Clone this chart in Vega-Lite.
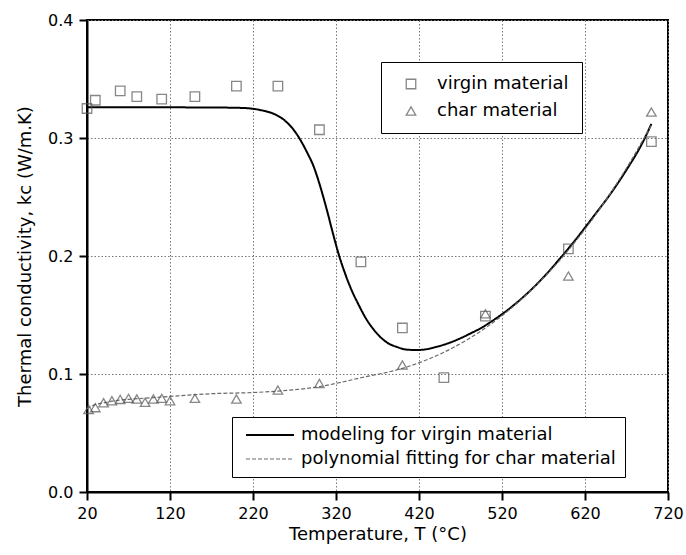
{
  "$schema": "https://vega.github.io/schema/vega-lite/v6.json",
  "width": 581,
  "height": 472,
  "autosize": "none",
  "padding": {"left": 87, "top": 20, "right": 18, "bottom": 63},
  "background": "white",
  "config": {
    "font": "DejaVu Sans",
    "view": {"stroke": "black", "strokeWidth": 2},
    "axis": {
      "domainColor": "black",
      "domainWidth": 2,
      "labelFontSize": 16,
      "labelColor": "black",
      "labelFont": "DejaVu Sans",
      "titleFont": "DejaVu Sans",
      "titleFontSize": 18,
      "titleFontWeight": "normal",
      "titleColor": "black",
      "labelFlush": false,
      "labelOverlap": false
    }
  },
  "datasets": {
    "curves": [
      {"curve": "modeling for virgin material", "T": 20, "k": 0.326},
      {"curve": "modeling for virgin material", "T": 100, "k": 0.326},
      {"curve": "modeling for virgin material", "T": 180, "k": 0.3258},
      {"curve": "modeling for virgin material", "T": 210, "k": 0.3254},
      {"curve": "modeling for virgin material", "T": 230, "k": 0.3235},
      {"curve": "modeling for virgin material", "T": 245, "k": 0.3205},
      {"curve": "modeling for virgin material", "T": 258, "k": 0.315},
      {"curve": "modeling for virgin material", "T": 272, "k": 0.304},
      {"curve": "modeling for virgin material", "T": 285, "k": 0.288},
      {"curve": "modeling for virgin material", "T": 293, "k": 0.276},
      {"curve": "modeling for virgin material", "T": 301, "k": 0.259},
      {"curve": "modeling for virgin material", "T": 309, "k": 0.239},
      {"curve": "modeling for virgin material", "T": 316, "k": 0.22},
      {"curve": "modeling for virgin material", "T": 323, "k": 0.202},
      {"curve": "modeling for virgin material", "T": 330, "k": 0.187},
      {"curve": "modeling for virgin material", "T": 337, "k": 0.174},
      {"curve": "modeling for virgin material", "T": 347, "k": 0.159},
      {"curve": "modeling for virgin material", "T": 357, "k": 0.146},
      {"curve": "modeling for virgin material", "T": 365, "k": 0.138},
      {"curve": "modeling for virgin material", "T": 373, "k": 0.1316},
      {"curve": "modeling for virgin material", "T": 383, "k": 0.126},
      {"curve": "modeling for virgin material", "T": 393, "k": 0.123},
      {"curve": "modeling for virgin material", "T": 405, "k": 0.1207},
      {"curve": "modeling for virgin material", "T": 417, "k": 0.1203},
      {"curve": "modeling for virgin material", "T": 429, "k": 0.121},
      {"curve": "modeling for virgin material", "T": 441, "k": 0.123},
      {"curve": "modeling for virgin material", "T": 455, "k": 0.126},
      {"curve": "modeling for virgin material", "T": 469, "k": 0.13},
      {"curve": "modeling for virgin material", "T": 481, "k": 0.134},
      {"curve": "modeling for virgin material", "T": 494, "k": 0.1387},
      {"curve": "modeling for virgin material", "T": 510, "k": 0.1458},
      {"curve": "modeling for virgin material", "T": 530, "k": 0.156},
      {"curve": "modeling for virgin material", "T": 550, "k": 0.168},
      {"curve": "modeling for virgin material", "T": 570, "k": 0.182},
      {"curve": "modeling for virgin material", "T": 590, "k": 0.198},
      {"curve": "modeling for virgin material", "T": 610, "k": 0.215},
      {"curve": "modeling for virgin material", "T": 630, "k": 0.2333},
      {"curve": "modeling for virgin material", "T": 650, "k": 0.252},
      {"curve": "modeling for virgin material", "T": 670, "k": 0.273},
      {"curve": "modeling for virgin material", "T": 690, "k": 0.297},
      {"curve": "modeling for virgin material", "T": 700, "k": 0.312},
      {"curve": "polynomial fitting for char material", "T": 20, "k": 0.0705},
      {"curve": "polynomial fitting for char material", "T": 25, "k": 0.0725},
      {"curve": "polynomial fitting for char material", "T": 30, "k": 0.074},
      {"curve": "polynomial fitting for char material", "T": 40, "k": 0.0755},
      {"curve": "polynomial fitting for char material", "T": 50, "k": 0.077},
      {"curve": "polynomial fitting for char material", "T": 70, "k": 0.0785},
      {"curve": "polynomial fitting for char material", "T": 100, "k": 0.08},
      {"curve": "polynomial fitting for char material", "T": 130, "k": 0.0815},
      {"curve": "polynomial fitting for char material", "T": 170, "k": 0.0833},
      {"curve": "polynomial fitting for char material", "T": 220, "k": 0.0843},
      {"curve": "polynomial fitting for char material", "T": 250, "k": 0.0855},
      {"curve": "polynomial fitting for char material", "T": 300, "k": 0.0893},
      {"curve": "polynomial fitting for char material", "T": 350, "k": 0.0968},
      {"curve": "polynomial fitting for char material", "T": 400, "k": 0.1048},
      {"curve": "polynomial fitting for char material", "T": 425, "k": 0.1108},
      {"curve": "polynomial fitting for char material", "T": 450, "k": 0.1184},
      {"curve": "polynomial fitting for char material", "T": 475, "k": 0.1278},
      {"curve": "polynomial fitting for char material", "T": 500, "k": 0.139},
      {"curve": "polynomial fitting for char material", "T": 525, "k": 0.1522},
      {"curve": "polynomial fitting for char material", "T": 550, "k": 0.1675},
      {"curve": "polynomial fitting for char material", "T": 575, "k": 0.1851},
      {"curve": "polynomial fitting for char material", "T": 600, "k": 0.205},
      {"curve": "polynomial fitting for char material", "T": 625, "k": 0.2274},
      {"curve": "polynomial fitting for char material", "T": 650, "k": 0.2525},
      {"curve": "polynomial fitting for char material", "T": 675, "k": 0.2803},
      {"curve": "polynomial fitting for char material", "T": 700, "k": 0.311}
    ],
    "points": [
      {"material": "virgin material", "T": 20, "k": 0.325},
      {"material": "virgin material", "T": 30, "k": 0.332},
      {"material": "virgin material", "T": 60, "k": 0.34},
      {"material": "virgin material", "T": 80, "k": 0.335},
      {"material": "virgin material", "T": 110, "k": 0.333},
      {"material": "virgin material", "T": 150, "k": 0.335},
      {"material": "virgin material", "T": 200, "k": 0.344},
      {"material": "virgin material", "T": 250, "k": 0.344},
      {"material": "virgin material", "T": 300, "k": 0.307},
      {"material": "virgin material", "T": 350, "k": 0.195},
      {"material": "virgin material", "T": 400, "k": 0.139},
      {"material": "virgin material", "T": 450, "k": 0.097},
      {"material": "virgin material", "T": 500, "k": 0.149},
      {"material": "virgin material", "T": 600, "k": 0.206},
      {"material": "virgin material", "T": 700, "k": 0.297},
      {"material": "char material", "T": 22, "k": 0.07},
      {"material": "char material", "T": 30, "k": 0.0715},
      {"material": "char material", "T": 40, "k": 0.0757},
      {"material": "char material", "T": 50, "k": 0.0774},
      {"material": "char material", "T": 60, "k": 0.0785},
      {"material": "char material", "T": 70, "k": 0.0794},
      {"material": "char material", "T": 80, "k": 0.0788},
      {"material": "char material", "T": 90, "k": 0.076},
      {"material": "char material", "T": 100, "k": 0.0788},
      {"material": "char material", "T": 110, "k": 0.0794},
      {"material": "char material", "T": 120, "k": 0.0774},
      {"material": "char material", "T": 150, "k": 0.0794},
      {"material": "char material", "T": 200, "k": 0.0788},
      {"material": "char material", "T": 250, "k": 0.0864},
      {"material": "char material", "T": 300, "k": 0.092},
      {"material": "char material", "T": 400, "k": 0.1076},
      {"material": "char material", "T": 500, "k": 0.151},
      {"material": "char material", "T": 600, "k": 0.183},
      {"material": "char material", "T": 700, "k": 0.322}
    ]
  },
  "layer": [
    {
      "data": {"name": "curves"},
      "mark": {"type": "line", "interpolate": "monotone"},
      "encoding": {
        "x": {
          "field": "T", "type": "quantitative",
          "scale": {"domain": [20, 720], "nice": false, "zero": false},
          "axis": {
            "values": [20, 120, 220, 320, 420, 520, 620, 720],
            "title": "Temperature, T (°C)",
            "format": "d",
            "tickColor": "black",
            "tickWidth": 2,
            "tickSize": 8,
            "gridColor": "#777",
            "gridDash": [1.5, 2],
            "labelPadding": 5,
            "titlePadding": 4
          }
        },
        "y": {
          "field": "k", "type": "quantitative",
          "scale": {"domain": [0, 0.4], "nice": false, "zero": false},
          "axis": {
            "values": [0, 0.1, 0.2, 0.3, 0.4],
            "title": "Thermal conductivity, kc (W/m.K)",
            "format": ".1f",
            "tickColor": "black",
            "tickWidth": 2,
            "tickSize": 8,
            "gridColor": "#777",
            "gridDash": [1.5, 2],
            "labelPadding": 6,
            "titlePadding": 13
          }
        },
        "color": {
          "field": "curve", "type": "nominal",
          "scale": {"domain": ["modeling for virgin material", "polynomial fitting for char material"], "range": ["black", "#6a6a6a"]},
          "legend": {
            "title": null,
            "orient": "none",
            "legendX": 145,
            "legendY": 397,
            "labelFontSize": 18,
            "labelColor": "black",
            "labelLimit": 600,
            "strokeColor": "black",
            "fillColor": "white",
            "padding": 9,
            "symbolType": "M-4.8,0H4.8",
            "symbolSize": 100,
            "labelOffset": 22,
            "rowPadding": 6,
            "symbolOffset": 20
          }
        },
        "strokeDash": {
          "field": "curve", "type": "nominal",
          "scale": {"domain": ["modeling for virgin material", "polynomial fitting for char material"], "range": [[1, 0], [4, 2]]},
          "legend": {
            "title": null,
            "orient": "none",
            "legendX": 145,
            "legendY": 397,
            "labelFontSize": 18,
            "labelColor": "black",
            "labelLimit": 600,
            "strokeColor": "black",
            "fillColor": "white",
            "padding": 9,
            "symbolType": "M-4.8,0H4.8",
            "symbolSize": 100,
            "labelOffset": 22,
            "rowPadding": 6,
            "symbolOffset": 20
          }
        },
        "strokeWidth": {
          "field": "curve", "type": "nominal",
          "scale": {"domain": ["modeling for virgin material", "polynomial fitting for char material"], "range": [2, 1.2]},
          "legend": {
            "title": null,
            "orient": "none",
            "legendX": 145,
            "legendY": 397,
            "labelFontSize": 18,
            "labelColor": "black",
            "labelLimit": 600,
            "strokeColor": "black",
            "fillColor": "white",
            "padding": 9,
            "symbolType": "M-4.8,0H4.8",
            "symbolSize": 100,
            "labelOffset": 22,
            "rowPadding": 6,
            "symbolOffset": 20
          }
        }
      }
    },
    {
      "data": {"name": "points"},
      "mark": {"type": "point", "filled": false, "size": 90, "strokeWidth": 1.3, "color": "#555"},
      "encoding": {
        "x": {"field": "T", "type": "quantitative"},
        "y": {"field": "k", "type": "quantitative"},
        "shape": {
          "field": "material", "type": "nominal",
          "scale": {"domain": ["virgin material", "char material"], "range": ["square", "triangle-up"]},
          "legend": {
            "title": null,
            "orient": "none",
            "legendX": 294,
            "legendY": 42,
            "labelFontSize": 18,
            "labelColor": "black",
            "strokeColor": "black",
            "fillColor": "white",
            "padding": 13,
            "symbolSize": 90,
            "symbolStrokeColor": "#555",
            "symbolFillColor": "transparent",
            "symbolStrokeWidth": 1.3,
            "labelOffset": 17,
            "rowPadding": 9,
            "symbolOffset": 8
          }
        }
      }
    }
  ]
}
